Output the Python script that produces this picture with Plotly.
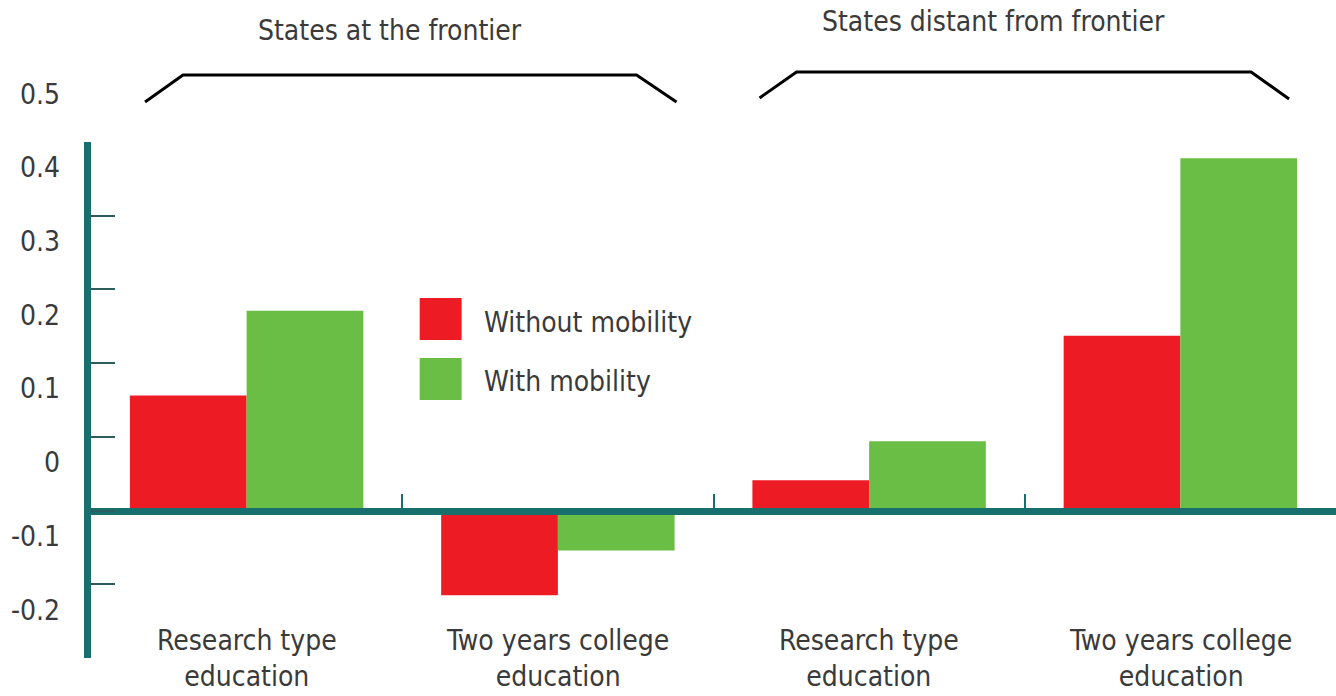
"""
Education spending effect on growth, with and without mobility.
"""

import plotly.graph_objects as go

# =============================================================================
# Data
# =============================================================================

categories = [
    "Research type<br>education",
    "Two years college<br>education",
    "Research type<br>education",
    "Two years college<br>education",
]

without_mobility = [0.156, -0.115, 0.041, 0.237]
with_mobility = [0.271, -0.054, 0.094, 0.478]

series_names = ["Without mobility", "With mobility"]
series_colors = ["#ED1C24", "#6ABD45"]

group_titles = ["States at the frontier", "States distant from frontier"]

y_tick_values = [0.5, 0.4, 0.3, 0.2, 0.1, 0.0, -0.1, -0.2]
y_tick_labels = ["0.5", "0.4", "0.3", "0.2", "0.1", "0", "-0.1", "-0.2"]

# =============================================================================
# Styling
# =============================================================================

FONT = "Liberation Sans Narrow, DejaVu Sans Condensed, sans-serif"
TEXT_COLOR = "#3a3a3a"
AXIS_COLOR = "#17706e"
FONT_SIZE = 28
Y_MIN, Y_MAX = -0.2, 0.5
LABEL_SHIFT = 0.065  # the printed labels sit above their tick marks


def to_paper(v):
    return (v - Y_MIN) / (Y_MAX - Y_MIN)


x_pos = list(range(len(categories)))
boundaries = [p - 0.5 for p in x_pos] + [x_pos[-1] + 0.5]

fig = go.Figure()

fig.add_trace(go.Bar(
    x=x_pos, y=without_mobility, name=series_names[0],
    marker=dict(color=series_colors[0], line=dict(width=0)),
))
fig.add_trace(go.Bar(
    x=x_pos, y=with_mobility, name=series_names[1],
    marker=dict(color=series_colors[1], line=dict(width=0)),
))

fig.update_layout(
    width=1336,
    height=696,
    margin=dict(l=91, r=0, t=142, b=38, autoexpand=False),
    paper_bgcolor="white",
    plot_bgcolor="white",
    barmode="group",
    bargap=0.25,
    bargroupgap=0,
    showlegend=False,
    font=dict(family=FONT, size=FONT_SIZE, color=TEXT_COLOR),
    xaxis=dict(
        range=[-0.5, len(categories) - 0.5],
        tickmode="array",
        tickvals=boundaries,
        ticks="inside",
        ticklen=14,
        tickwidth=2,
        tickcolor=AXIS_COLOR,
        showticklabels=False,
        showgrid=False,
        zeroline=False,
        showline=True,
        linewidth=7,
        linecolor=AXIS_COLOR,
        anchor="free",
        position=to_paper(0),
    ),
    yaxis=dict(
        range=[Y_MIN, Y_MAX],
        tickmode="array",
        tickvals=y_tick_values,
        ticks="inside",
        ticklen=24,
        tickwidth=2,
        tickcolor="#2d5d5c",
        showticklabels=False,
        showgrid=False,
        zeroline=False,
        showline=True,
        linewidth=7,
        linecolor=AXIS_COLOR,
    ),
)

# y tick labels (offset from the marks, as printed in the source)
for val, txt in zip(y_tick_values, y_tick_labels):
    fig.add_annotation(
        x=-0.023, xref="paper", xanchor="right",
        y=to_paper(val + LABEL_SHIFT), yref="paper", yanchor="middle",
        text=txt, showarrow=False,
        font=dict(size=FONT_SIZE, color=TEXT_COLOR),
    )

# category labels under the bars
for pos, txt in zip(x_pos, categories):
    fig.add_annotation(
        x=pos, xref="x", xanchor="center",
        y=0.0, yref="paper", yanchor="middle",
        text=txt, showarrow=False,
        font=dict(size=FONT_SIZE, color=TEXT_COLOR),
    )

# group titles and brackets
fig.add_annotation(
    x=0.240, xref="paper", xanchor="center",
    y=1.217, yref="paper", yanchor="middle",
    text=group_titles[0], showarrow=False,
    font=dict(size=FONT_SIZE, color=TEXT_COLOR),
)
fig.add_annotation(
    x=0.725, xref="paper", xanchor="center",
    y=1.233, yref="paper", yanchor="middle",
    text=group_titles[1], showarrow=False,
    font=dict(size=FONT_SIZE, color=TEXT_COLOR),
)
fig.add_shape(
    type="path", xref="paper", yref="paper",
    path="M 0.0434 1.0775 L 0.0739 1.1298 L 0.4382 1.1298 L 0.4703 1.0775",
    line=dict(color="black", width=3),
)
fig.add_shape(
    type="path", xref="paper", yref="paper",
    path="M 0.5370 1.0853 L 0.5667 1.1357 L 0.9318 1.1357 L 0.9623 1.0833",
    line=dict(color="black", width=3),
)

# legend drawn by hand so the swatches can be large
legend_rows = [(0.6977, 0.6163, 0.651), (0.5814, 0.5000, 0.535)]
for (top, bottom, mid), name, color in zip(legend_rows, series_names, series_colors):
    fig.add_shape(
        type="rect", xref="paper", yref="paper",
        x0=0.2640, x1=0.2977, y0=bottom, y1=top,
        fillcolor=color, line=dict(width=0),
    )
    fig.add_annotation(
        x=0.314, xref="paper", xanchor="left",
        y=mid, yref="paper", yanchor="middle",
        text=name, showarrow=False,
        font=dict(size=FONT_SIZE, color=TEXT_COLOR),
    )

# drop the browser's default body margin so the figure sits at the page corner
fig.write_html(
    "out.html",
    config={"displayModeBar": False},
    post_script="document.body.style.margin = '0';",
)
